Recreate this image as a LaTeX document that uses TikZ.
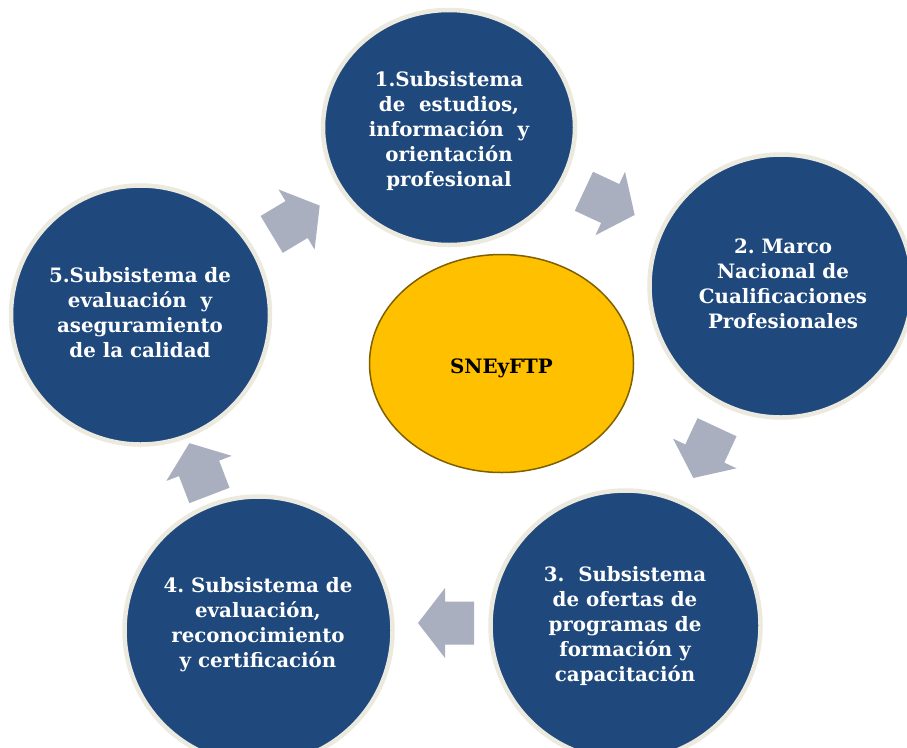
\documentclass[tikz,border=0pt]{standalone}
\usepackage{fontspec}
\setmainfont{DejaVu Serif}
\usetikzlibrary{shapes.geometric}
\definecolor{discblue}{RGB}{31,73,125}
\definecolor{discrim}{RGB}{236,234,222}
\definecolor{hubfill}{RGB}{255,192,0}
\definecolor{hubline}{RGB}{127,96,0}
\definecolor{flowgrey}{RGB}{170,175,192}
\frenchspacing
\begin{document}
\begin{tikzpicture}[x=1pt,y=-1pt,
  disc/.style={ellipse, fill=discblue, draw=discrim, line width=4.5pt, inner sep=0pt},
  disctext/.style={text=white, font=\fontsize{19.8}{25}\selectfont\bfseries\frenchspacing, align=center, inner sep=0pt},
  hub/.style={ellipse, fill=hubfill, draw=hubline, line width=1.5pt, inner sep=0pt,
    minimum width=264pt, minimum height=218pt},
  hubtext/.style={text=black, font=\fontsize{19.8}{25}\selectfont\bfseries, inner sep=0pt},
  flowarrow/.pic={\fill[flowgrey] (-28,-21.5) -- (1,-21.5) -- (1,-35) -- (28,0)
      -- (1,35) -- (1,21.5) -- (-28,21.5) -- cycle;}]
\useasboundingbox[fill=white] (0,0) rectangle (907,747);

% central hub
\node[hub] (hub) at (501.5,363.5) {};
\node[hubtext, anchor=base] (hubname) at (501.5,373) {SNEyFTP};

% the five subsystems
\node[disc, minimum width=252pt, minimum height=235pt] (d1) at (449,127.5) {};
\node[disc, minimum size=263pt] (d2) at (781,286) {};
\node[disc, minimum size=270pt] (d3) at (625.5,625.5) {};
\node[disc, minimum size=268pt] (d4) at (258.5,630.5) {};
\node[disc, minimum size=259pt] (d5) at (140.5,315) {};

\node[disctext] (t1) at (449,131) {1.Subsistema\\de~ estudios,\\información~ y\\orientación\\profesional};
\node[disctext] (t2) at (783,284) {2. Marco\\Nacional de\\Cualificaciones\\Profesionales};
\node[disctext] (t3) at (625,626) {3.~ Subsistema\\de ofertas de\\programas de\\formación y\\capacitación};
\node[disctext] (t4) at (258,625) {4. Subsistema de\\evaluación,\\reconocimiento\\y certificación};
\node[disctext] (t5) at (140,313) {5.Subsistema de\\evaluación~ y\\aseguramiento\\de la calidad};

% cycle arrows
\pic[rotate=31] (a51) at (295.7,220) {flowarrow};
\pic[rotate=-25] (a12) at (609.3,203.1) {flowarrow};
\pic[rotate=-115] (a23) at (705.2,452.6) {flowarrow};
\pic[rotate=180] (a34) at (446,623) {flowarrow};
\pic[rotate=111] (a45) at (199.4,469.3) {flowarrow};
\end{tikzpicture}
\end{document}
